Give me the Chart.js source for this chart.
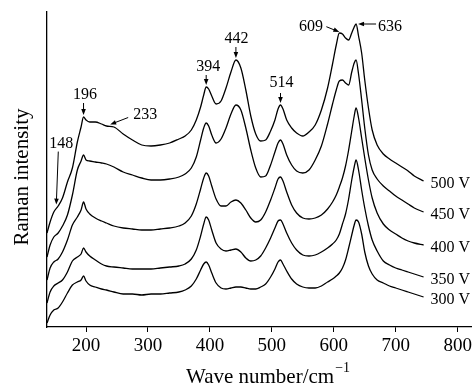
<!DOCTYPE html>
<html>
<head>
<meta charset="utf-8">
<script src="https://cdn.jsdelivr.net/npm/chart.js@4.4.1/dist/chart.umd.min.js"></script>
<style>
  html, body { margin: 0; padding: 0; background: #fff; }
  #wrap { width: 475px; height: 387px; }
</style>
</head>
<body>
<div id="wrap"><canvas id="myChart" width="475" height="387"></canvas></div>
<script>
// wave numbers (cm-1), shared by every spectrum
const waveNumbers = [137,142,148,155,162,170,178,186,192,196,
  200,206,215,225,233,245,260,275,290,305,
  320,335,350,360,370,378,385,390,394,398,
  403,410,418,426,434,442,450,458,466,474,
  482,490,498,505,510,514,518,524,532,540,
  550,560,570,580,590,598,604,609,614,619,
  624,629,633,636,640,645,650,656,662,670,
  680,690,700,710,720,730,745];

// Raman intensity (a.u., stacked)
const v300 = [4,12,17,19,25,34,42,45,47,51,
  46,42,40,38,37,35,33,33,32,33,
  33,34,35,37,41,48,57,63,65,62,
  54,44,39,38,39,40,40,39,38,38,
  40,43,50,58,65,67,63,56,48,43,
  40,39,39,41,45,48,51,54,59,67,
  79,92,102,107,105,93,75,61,53,47,
  44,41,39,37,35,33,30];
const v350 = [24,35,41,44,47,55,66,70,73,79,
  75,71,67,63,61,60,59,58,58,58,
  59,60,61,63,68,77,91,103,110,107,
  97,84,78,76,77,78,75,69,66,67,
  71,79,89,99,106,107,103,94,84,77,
  72,71,72,75,79,83,87,93,103,113,
  128,147,160,167,157,137,119,101,87,76,
  66,62,59,57,55,53,50];
const v400 = [47,59,65,68,75,87,102,110,117,125,
  118,113,109,106,104,101,99,98,97,97,
  98,99,101,104,111,123,138,149,154,151,
  141,128,121,121,125,127,124,117,109,105,
  107,115,127,139,148,150,146,135,122,114,
  109,108,109,112,118,125,132,140,149,161,
  177,196,211,219,209,189,169,147,129,114,
  103,97,93,89,86,84,82];
const v450 = [70,82,90,94,101,112,132,157,166,172,
  167,166,165,164,163,160,155,152,149,147,
  147,148,150,153,159,170,187,199,204,201,
  192,184,188,199,213,222,217,199,177,159,
  150,151,162,175,184,187,183,172,162,156,
  154,157,167,181,203,223,237,246,247,244,
  242,255,264,267,253,227,199,172,157,148,
  141,136,131,127,123,119,115];
const v500 = [94,105,115,121,129,145,159,185,200,210,
  207,205,205,203,201,200,193,187,182,181,
  182,184,188,191,197,207,220,232,240,238,
  231,223,226,239,255,267,259,237,211,193,
  186,187,196,207,218,222,218,207,199,194,
  191,195,202,217,239,263,282,294,293,289,
  287,294,300,303,291,274,247,219,197,182,
  173,168,164,160,156,151,146];

const voltages = ["300 V", "350 V", "400 V", "450 V", "500 V"];
const xTicks = [200, 300, 400, 500, 600, 700, 800];

// peak labels marked on the 500 V spectrum
const peakText = ["148", "196", "233", "394", "442", "514", "609", "636"];
const peakWave = [152, 196, 239, 394, 442, 514, 609, 636];

const FONT = "'Liberation Serif', 'Times New Roman', serif";
Chart.defaults.font.family = FONT;
Chart.defaults.color = "#000";

function interp(xs, ys, w) {
  for (let i = 1; i < xs.length; i++) {
    if (w <= xs[i]) {
      const t = (w - xs[i - 1]) / (xs[i] - xs[i - 1]);
      return ys[i - 1] + t * (ys[i] - ys[i - 1]);
    }
  }
  return ys[ys.length - 1];
}

function arrow(ctx, x1, y1, x2, y2) {
  const a = Math.atan2(y2 - y1, x2 - x1);
  const len = 6, half = 2.3;
  ctx.beginPath();
  ctx.moveTo(x1, y1);
  ctx.lineTo(x2 - Math.cos(a) * len * 0.8, y2 - Math.sin(a) * len * 0.8);
  ctx.stroke();
  ctx.beginPath();
  ctx.moveTo(x2, y2);
  ctx.lineTo(x2 - len * Math.cos(a) + half * Math.sin(a), y2 - len * Math.sin(a) - half * Math.cos(a));
  ctx.lineTo(x2 - len * Math.cos(a) - half * Math.sin(a), y2 - len * Math.sin(a) + half * Math.cos(a));
  ctx.closePath();
  ctx.fill();
}

// text/arrow offsets relative to the arrow tip, one per peak label
const peakOffsets = [
  { tx: 5, ty: -61, lx: 2, ly: -53, gap: 4, dx: 0 },
  { tx: 1.5, ty: -20, lx: 0, ly: -12, gap: 2, dx: 0 },
  { tx: 35, ty: -10, lx: 18, ly: -7, gap: 2, dx: 0 },
  { tx: 2, ty: -18, lx: 0, ly: -10, gap: 2, dx: 0 },
  { tx: 0.5, ty: -19.5, lx: 0, ly: -11, gap: 2, dx: 0 },
  { tx: 1, ty: -20, lx: 0, ly: -10, gap: 2, dx: 0 },
  { tx: -28.3, ty: -5.5, lx: -13, ly: -5.3, gap: 1, dx: 0 },
  { tx: 32, ty: 2.5, lx: 18, ly: 0, gap: 0, dx: 2 }
];

const decorations = {
  id: "decorations",
  afterDraw(chart) {
    const ctx = chart.ctx;
    const xs = chart.scales.x, ys = chart.scales.y;
    ctx.save();
    ctx.fillStyle = "#000";
    ctx.strokeStyle = "#000";
    ctx.lineWidth = 1;

    // peak labels with arrows
    ctx.font = "16px " + FONT;
    ctx.textAlign = "center";
    ctx.textBaseline = "middle";
    for (let i = 0; i < peakText.length; i++) {
      const o = peakOffsets[i];
      const px = xs.getPixelForValue(peakWave[i]) + o.dx;
      const py = ys.getPixelForValue(interp(waveNumbers, v500, peakWave[i])) - o.gap;
      ctx.fillText(peakText[i], px + o.tx, py + o.ty);
      arrow(ctx, px + o.lx, py + o.ly, px, py);
    }

    // voltage labels at the end of each spectrum
    ctx.textAlign = "left";
    chart.data.datasets.forEach((ds) => {
      const last = ds.data[ds.data.length - 1];
      const x = xs.getPixelForValue(last.x);
      const y = ys.getPixelForValue(last.y);
      ctx.fillText(ds.label, x + 7, y + 3);
    });

    // y axis title
    ctx.font = "21px " + FONT;
    ctx.textAlign = "center";
    ctx.save();
    ctx.translate(22, 177);
    ctx.rotate(-Math.PI / 2);
    ctx.fillText("Raman intensity", 0, 0);
    ctx.restore();

    // x axis title with superscript
    ctx.textAlign = "left";
    ctx.textBaseline = "alphabetic";
    const main = "Wave number/cm";
    ctx.fillText(main, 186, 383);
    const w = ctx.measureText(main).width;
    ctx.font = "14px " + FONT;
    ctx.fillText("\u22121", 186 + w + 1, 372);
    ctx.restore();
  }
};

const series = [v300, v350, v400, v450, v500];

new Chart(document.getElementById("myChart"), {
  type: "line",
  data: {
    datasets: series.map((s, k) => ({
      label: voltages[k],
      data: waveNumbers.map((w, i) => ({ x: w, y: s[i] })),
      borderColor: "#000",
      borderWidth: 1.3,
      pointRadius: 0,
      fill: false,
      cubicInterpolationMode: "monotone",
    })),
  },
  options: {
    responsive: false,
    animation: false,
    events: [],
    layout: { padding: { top: 12, right: 3, left: 0, bottom: 0 } },
    scales: {
      x: {
        type: "linear",
        min: 137,
        max: 822,
        afterBuildTicks: (s) => { s.ticks = xTicks.map((v) => ({ value: v })); },
        afterFit: (s) => { s.height = 60; },
        grid: { display: true, drawOnChartArea: false, drawTicks: true, tickLength: 5, color: "#000", lineWidth: 1 },
        border: { display: true, color: "#000", width: 1.3 },
        ticks: { color: "#000", font: { size: 19, family: FONT }, padding: 3, maxRotation: 0 },
      },
      y: {
        type: "linear",
        min: 0,
        max: 315,
        afterFit: (s) => { s.width = 47; },
        grid: { display: false },
        border: { display: true, color: "#000", width: 1.3 },
        ticks: { display: false },
      },
    },
    plugins: {
      legend: { display: false },
      tooltip: { enabled: false },
    },
  },
  plugins: [decorations],
});
</script>
</body>
</html>
